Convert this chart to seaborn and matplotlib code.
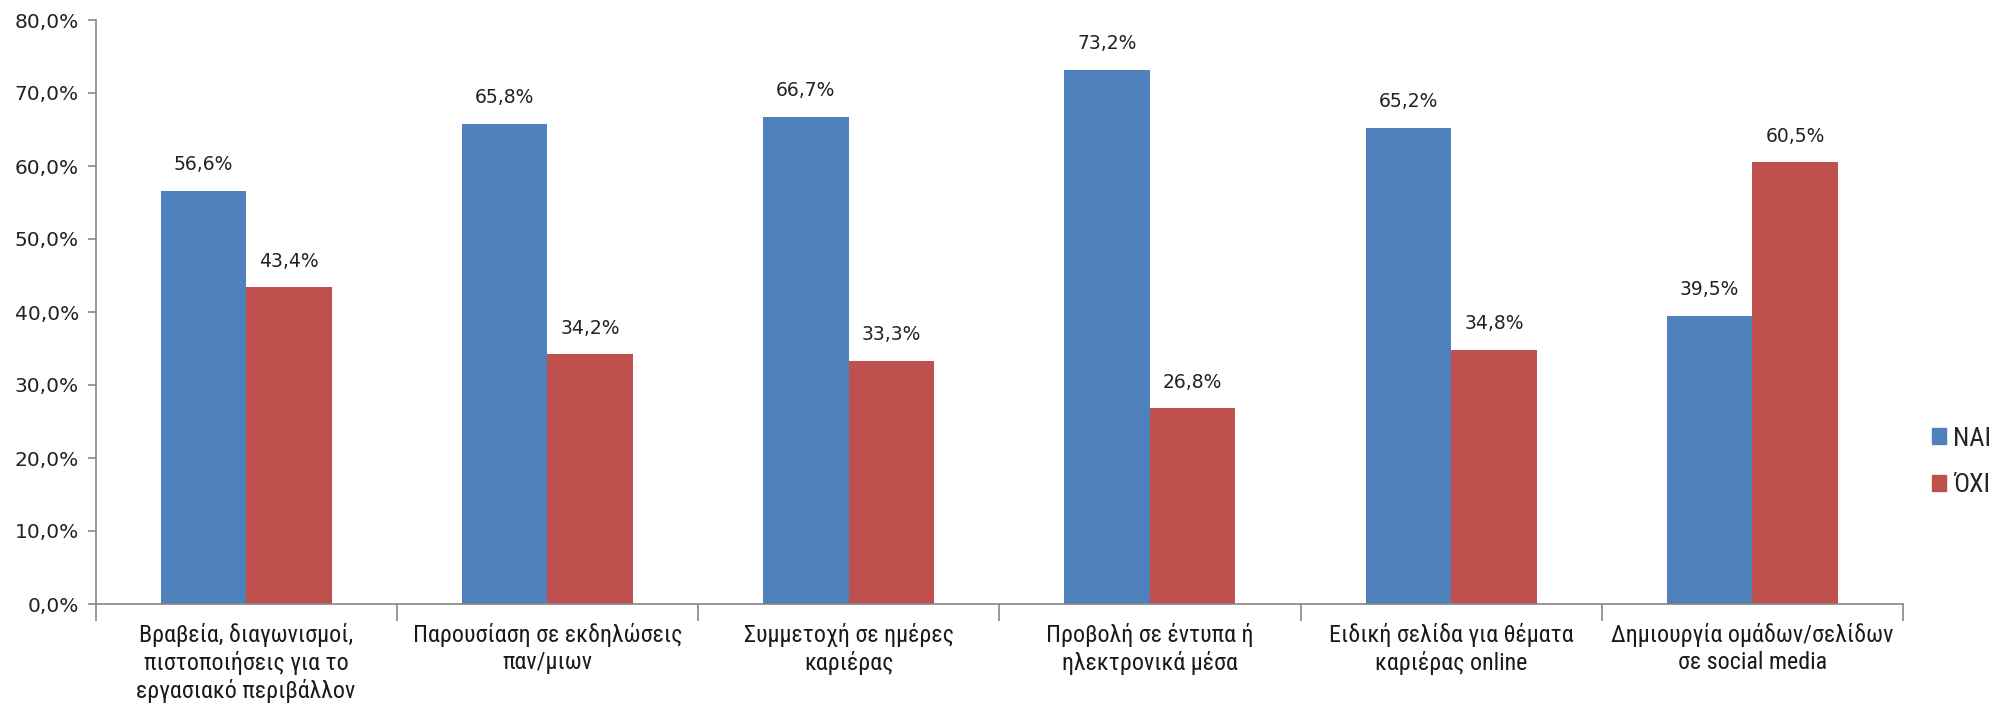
import matplotlib
matplotlib.use("Agg")
import matplotlib.pyplot as plt
import seaborn as sns
import pandas as pd
import numpy as np
from matplotlib.ticker import FuncFormatter, FixedLocator
from matplotlib import font_manager
from matplotlib.textpath import TextPath
from matplotlib.font_manager import FontProperties

categories = [
    "Βραβεία, διαγωνισμοί,\nπιστοποιήσεις για το\nεργασιακό περιβάλλον",
    "Παρουσίαση σε εκδηλώσεις\nπαν/μιων",
    "Συμμετοχή σε ημέρες\nκαριέρας",
    "Προβολή σε έντυπα ή\nηλεκτρονικά μέσα",
    "Ειδική σελίδα για θέματα\nκαριέρας online",
    "Δημιουργία ομάδων/σελίδων\nσε social media",
]
series_names = ["ΝΑΙ", "ΌΧΙ"]
yes_values = [56.6, 65.8, 66.7, 73.2, 65.2, 39.5]
no_values = [43.4, 34.2, 33.3, 26.8, 34.8, 60.5]
colors = ["#4F81BD", "#C0504D"]

df = pd.DataFrame({
    "category": categories * 2,
    "series": [series_names[0]] * len(categories) + [series_names[1]] * len(categories),
    "value": yes_values + no_values,
})

sns.set_theme(style="white")
plt.rcParams["font.family"] = ["DejaVu Sans"]

# pick the narrowest available sans family for category text
installed = {f.name for f in font_manager.fontManager.ttflist}
label_font = "Liberation Sans"
for cand in ["Liberation Sans Narrow", "Roboto Condensed", "Open Sans Condensed",
             "Noto Sans Condensed", "Liberation Sans"]:
    if cand in installed:
        label_font = cand
        break

# size the category font so the widest line spans ~266 px
DPI = 100
probe = TextPath((0, 0), "Παρουσίαση σε εκδηλώσεις", size=10,
                 prop=FontProperties(family=label_font))
w10 = probe.get_extents().width * DPI / 72.0
label_size = 10 * 266.0 / w10
line_pitch_px = 30.6
label_linespacing = 1.1 * line_pitch_px / (label_size * DPI / 72.0 * 1.17)

fig, ax = plt.subplots(figsize=(19.97, 7.03), dpi=DPI)
fig.subplots_adjust(left=95.5 / 1997, right=1903 / 1997, top=1 - 20 / 703, bottom=1 - 604 / 703)

sns.barplot(data=df, x="category", y="value", hue="series", order=categories,
            hue_order=series_names, palette=colors, width=0.567, gap=0,
            saturation=1, linewidth=0, ax=ax, legend=False)

def pct(v):
    return f"{v:.1f}".replace(".", ",") + "%"

for container in ax.containers:
    ax.bar_label(container, labels=[pct(b.get_height()) for b in container],
                 padding=12, fontsize=13.5, color="#222222")

ax.set_ylim(0, 80)
ax.set_xlim(-0.5, len(categories) - 0.5)
ax.set_yticks(np.arange(0, 81, 10))
ax.yaxis.set_major_formatter(FuncFormatter(lambda v, p: pct(v)))
ax.tick_params(axis="y", labelsize=14.5, length=6, color="#868686", width=1.2,
               left=True, pad=6, labelcolor="#222222")
ax.tick_params(axis="x", length=0, pad=14)
ax.xaxis.set_minor_locator(FixedLocator(np.arange(-0.5, len(categories), 1.0)))
ax.tick_params(axis="x", which="minor", length=12, color="#868686", width=1.2, bottom=True)
for lab in ax.get_xticklabels():
    lab.set_fontfamily(label_font)
    lab.set_fontsize(label_size)
    lab.set_color("#1a1a1a")
    lab.set_linespacing(label_linespacing)

ax.set_xlabel("")
ax.set_ylabel("")
for side in ("top", "right"):
    ax.spines[side].set_visible(False)
for side in ("left", "bottom"):
    ax.spines[side].set_color("#868686")
    ax.spines[side].set_linewidth(1.2)

handles = [plt.Rectangle((0, 0), 1, 1, color=c) for c in colors]
fig.legend(handles, series_names, loc="center left",
           bbox_to_anchor=(1921 / 1997, 1 - 462 / 703), frameon=False,
           prop={"family": label_font, "size": 19}, handlelength=0.55, handleheight=0.55,
           handletextpad=0.25, labelspacing=0.85, borderaxespad=0)

fig.savefig("out.png", dpi=DPI)
